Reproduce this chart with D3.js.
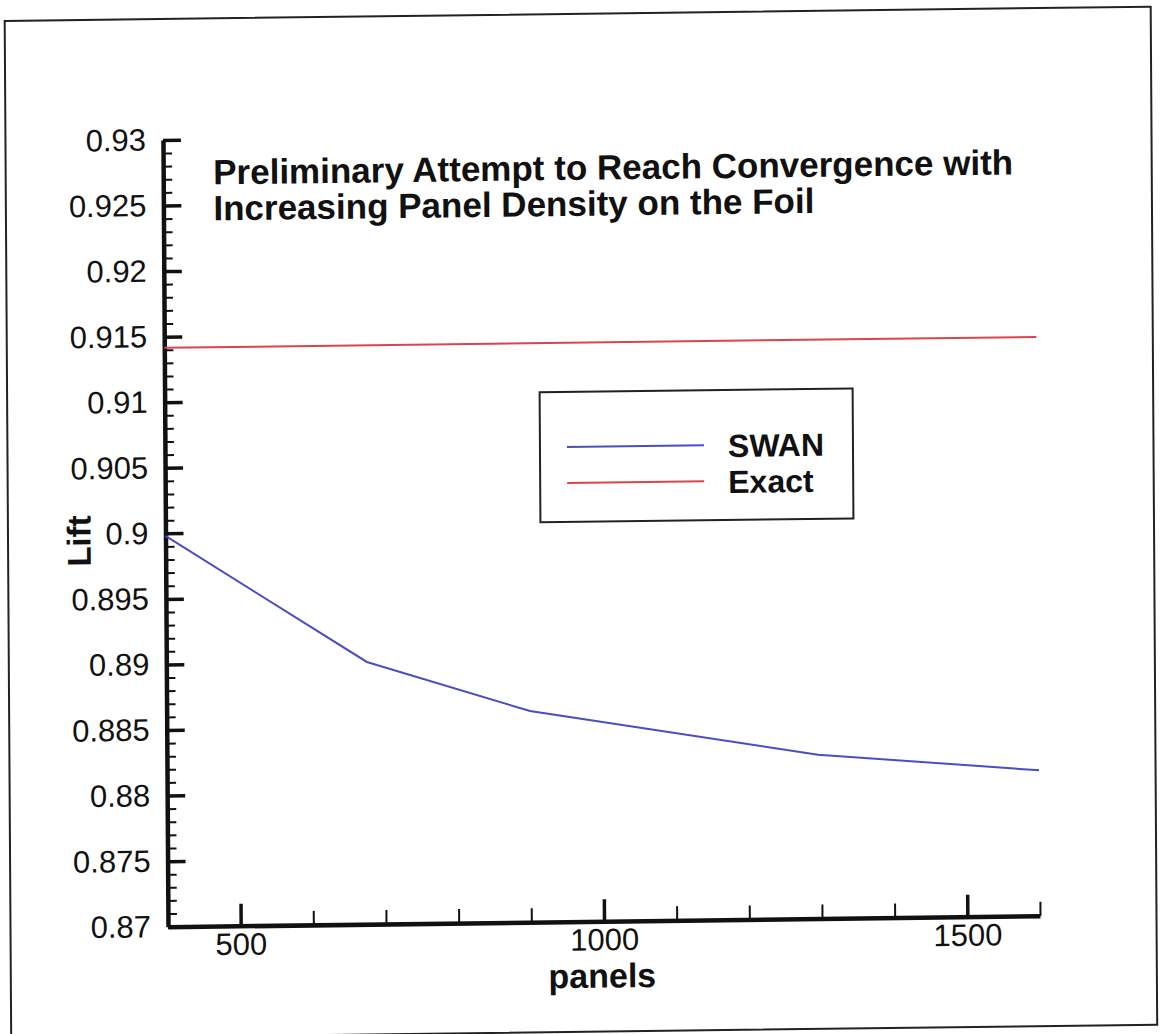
<!DOCTYPE html>
<html>
<head>
<meta charset="utf-8">
<script src="https://cdn.jsdelivr.net/npm/d3@7/dist/d3.min.js"></script>
<style>
  html, body { margin: 0; padding: 0; background: #fff; }
  svg { display: block; }
  text { font-family: "Liberation Sans", Arial, Helvetica, sans-serif; fill: #111; }
</style>
</head>
<body>
<svg id="chart" width="1169" height="1034"></svg>
<script>
// Panel count along the foil and the lift computed for each
const swanPanels = [400, 676, 900, 1296, 1600];
const swanLift   = [0.8998, 0.8900, 0.8861, 0.8825, 0.8811];

// Analytic lift (constant across panel counts)
const exactPanels = [400, 1600];
const exactLift   = [0.91415, 0.91415];

// Axis ticks
const xMajorTicks = [500, 1000, 1500];
const xMajorLabels = ["500", "1000", "1500"];
const xMinorTicks = [600, 700, 800, 900, 1100, 1200, 1300, 1400, 1600];
const yMajorTicks = [0.87, 0.875, 0.88, 0.885, 0.89, 0.895, 0.9, 0.905, 0.91, 0.915, 0.92, 0.925, 0.93];
const yMajorLabels = ["0.87", "0.875", "0.88", "0.885", "0.89", "0.895", "0.9", "0.905", "0.91", "0.915", "0.92", "0.925", "0.93"];
const yMinorTicks = d3.range(870, 931).filter(v => v % 5 !== 0).map(v => v / 1000);

const titleLines = ["Preliminary Attempt to Reach Convergence with", "Increasing Panel Density on the Foil"];
const seriesNames = ["SWAN", "Exact"];
const seriesColors = ["#4c4cc4", "#d8454f"];

const svg = d3.select("#chart");

// The printed page sits slightly askew; everything is drawn inside one sheared group
const ox = 168, oy = 926.7, a = 0.0064, b = 0.0125;
const page = svg.append("g")
  .attr("transform", `matrix(1,${-b},${a},1,${-a * oy},${b * ox})`);

// Page frame
page.append("rect")
  .attr("x", 10.5).attr("y", 19).attr("width", 1146).attr("height", 1018)
  .attr("fill", "none").attr("stroke", "#222").attr("stroke-width", 2);

const x = d3.scaleLinear().domain([400, 1600]).range([168, 1040]);
const y = d3.scaleLinear().domain([0.87, 0.93]).range([926.7, 140]);

// Y axis: major ticks with labels, then minor ticks
const yMajor = page.append("g").attr("transform", `translate(${ox},0)`)
  .call(d3.axisLeft(y).tickValues(yMajorTicks)
    .tickFormat((d, i) => yMajorLabels[i])
    .tickSizeInner(-18).tickSizeOuter(0).tickPadding(17));
yMajor.select(".domain").attr("stroke", "#111").attr("stroke-width", 4.5);
yMajor.selectAll(".tick line").attr("stroke", "#111").attr("stroke-width", 3.5);
yMajor.selectAll(".tick text").style("font-size", "31px").attr("fill", "#111");

const yMinor = page.append("g").attr("transform", `translate(${ox},0)`)
  .call(d3.axisLeft(y).tickValues(yMinorTicks).tickFormat("")
    .tickSizeInner(-9).tickSizeOuter(0));
yMinor.select(".domain").remove();
yMinor.selectAll(".tick line").attr("stroke", "#111").attr("stroke-width", 2);

// X axis
const xMajor = page.append("g").attr("transform", `translate(0,${oy})`)
  .call(d3.axisBottom(x).tickValues(xMajorTicks)
    .tickFormat((d, i) => xMajorLabels[i])
    .tickSizeInner(-22).tickSizeOuter(0).tickPadding(7));
xMajor.select(".domain").attr("stroke", "#111").attr("stroke-width", 4.5);
xMajor.selectAll(".tick line").attr("stroke", "#111").attr("stroke-width", 3.5);
xMajor.selectAll(".tick text").style("font-size", "31px").attr("fill", "#111");

const xMinor = page.append("g").attr("transform", `translate(0,${oy})`)
  .call(d3.axisBottom(x).tickValues(xMinorTicks).tickFormat("")
    .tickSizeInner(-14).tickSizeOuter(0));
xMinor.select(".domain").remove();
xMinor.selectAll(".tick line").attr("stroke", "#111").attr("stroke-width", 2);

// Axis titles
page.append("text")
  .attr("x", x(1000) - 2).attr("y", 993)
  .attr("text-anchor", "middle")
  .style("font-size", "34px").style("font-weight", "bold")
  .text("panels");

page.append("text")
  .attr("transform", "translate(93,540) rotate(-90)")
  .attr("text-anchor", "middle")
  .style("font-size", "33px").style("font-weight", "bold")
  .text("Lift");

// Title, one text per line
page.append("g")
  .style("font-size", "35px").style("font-weight", "bold")
  .selectAll("text").data(titleLines).join("text")
  .attr("x", 218).attr("y", (d, i) => 185 + i * 36)
  .text(d => d);

// Data lines
const line = d3.line().x(d => x(d[0])).y(d => y(d[1]));
const swanData = swanPanels.map((p, i) => [p, swanLift[i]]);
const exactData = exactPanels.map((p, i) => [p, exactLift[i]]);

page.append("path").datum(exactData)
  .attr("d", line).attr("fill", "none")
  .attr("stroke", seriesColors[1]).attr("stroke-width", 2);
page.append("path").datum(swanData)
  .attr("d", line).attr("fill", "none")
  .attr("stroke", seriesColors[0]).attr("stroke-width", 2);

// Legend
const legend = page.append("g");
legend.append("rect")
  .attr("x", 543).attr("y", 397).attr("width", 313).attr("height", 130)
  .attr("fill", "#fff").attr("stroke", "#222").attr("stroke-width", 2);
seriesNames.forEach((name, i) => {
  const ly = 452 + i * 36;
  legend.append("line")
    .attr("x1", 570).attr("x2", 707).attr("y1", ly).attr("y2", ly)
    .attr("stroke", seriesColors[i]).attr("stroke-width", 2);
  legend.append("text")
    .attr("x", 731).attr("y", ly + 12)
    .style("font-size", "32px").style("font-weight", "bold")
    .text(name);
});
</script>
</body>
</html>
